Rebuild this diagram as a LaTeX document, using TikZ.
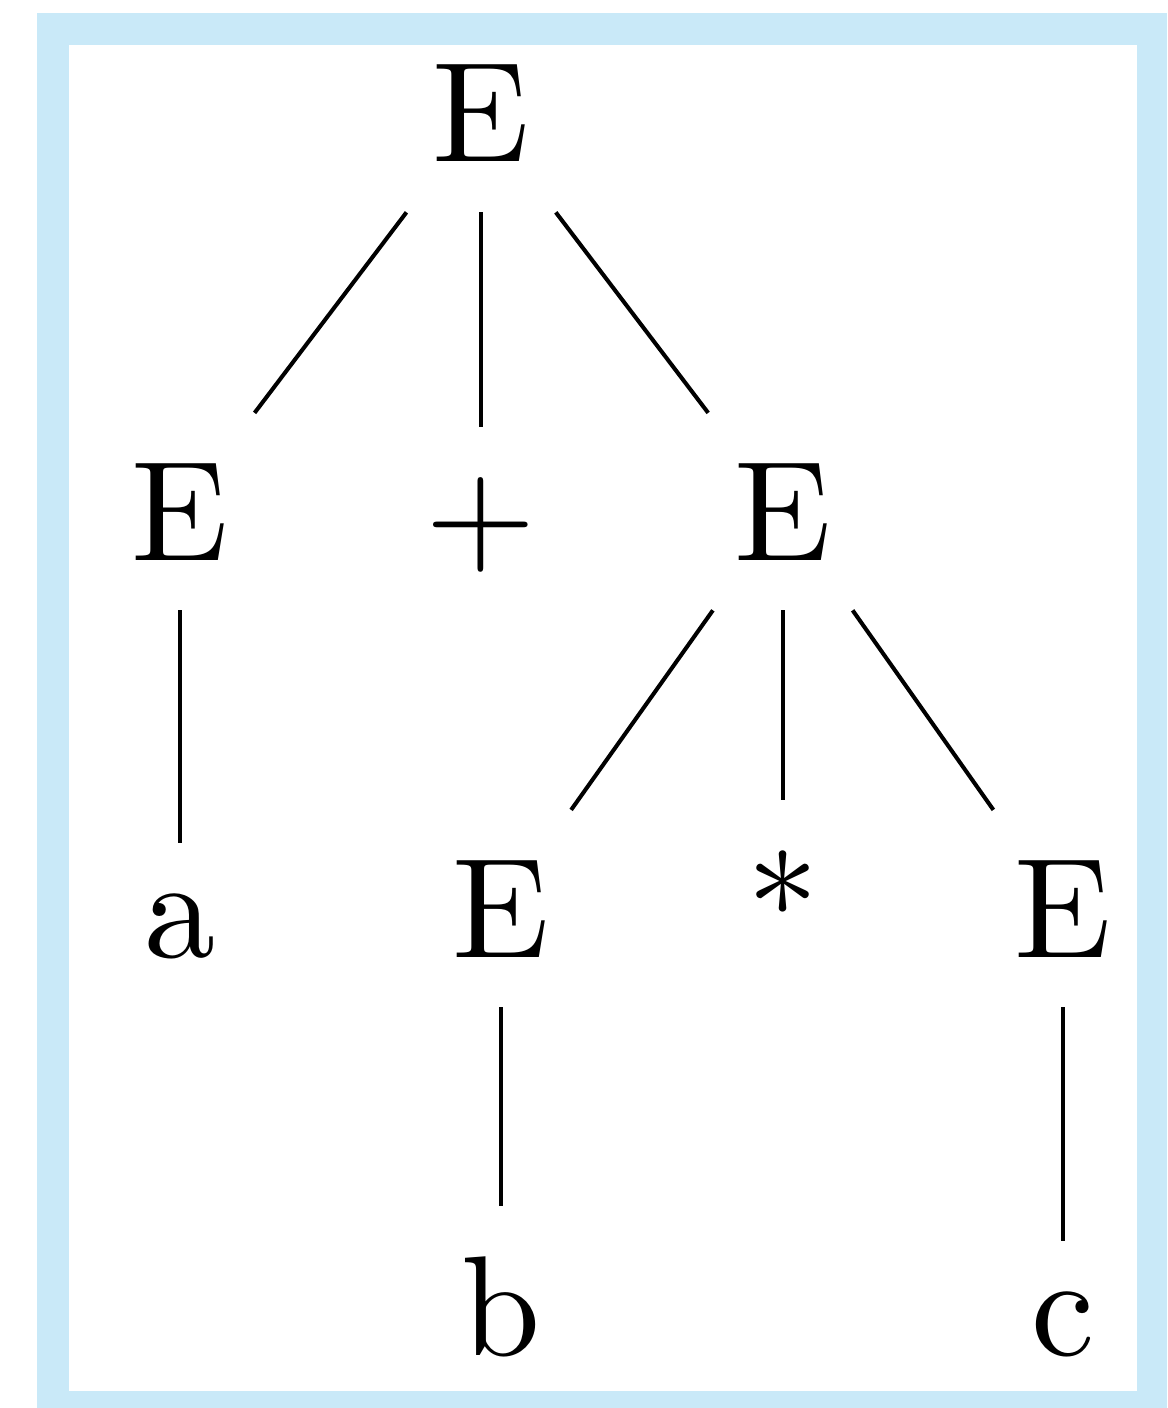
\documentclass[tikz,border=0pt]{standalone}
\usepackage{fontspec}
\setmainfont{lmroman10-regular.otf}
\usepackage{tikz}
\usetikzlibrary{positioning}
\definecolor{framebg}{RGB}{201,233,248}

\begin{document}
\begin{tikzpicture}[x=0.02cm, y=-0.02cm,
  sym/.style={anchor=base, inner sep=1cm, font=\fontsize{81}{97}\selectfont},
  edge/.style={line width=2.3pt}]
\useasboundingbox (0,0) rectangle (1167,1408);
\fill[framebg] (37,13) rectangle (1167,1408);
\fill[white] (69,45) rectangle (1137,1391);
% tree
\node[sym] (e0) at (481,162) {E};
\node[sym] (e1) at (180,560) {E};
\node[sym] (plus) at (481,560) {+};
\node[sym] (e2) at (783,560) {E};
\node[sym] (a) at (180,957) {a};
\node[sym] (e3) at (501,957) {E};
\node[sym] (star) at (783,957) {*};
\node[sym] (e4) at (1063,957) {E};
\node[sym] (b) at (501,1355) {b};
\node[sym] (c) at (1063,1355) {c};
\foreach \p/\c in {e0/e1,e0/plus,e0/e2,e1/a,e2/e3,e2/star,e2/e4,e3/b,e4/c}
  \draw[edge] (\p) -- (\c);
\end{tikzpicture}
\end{document}
